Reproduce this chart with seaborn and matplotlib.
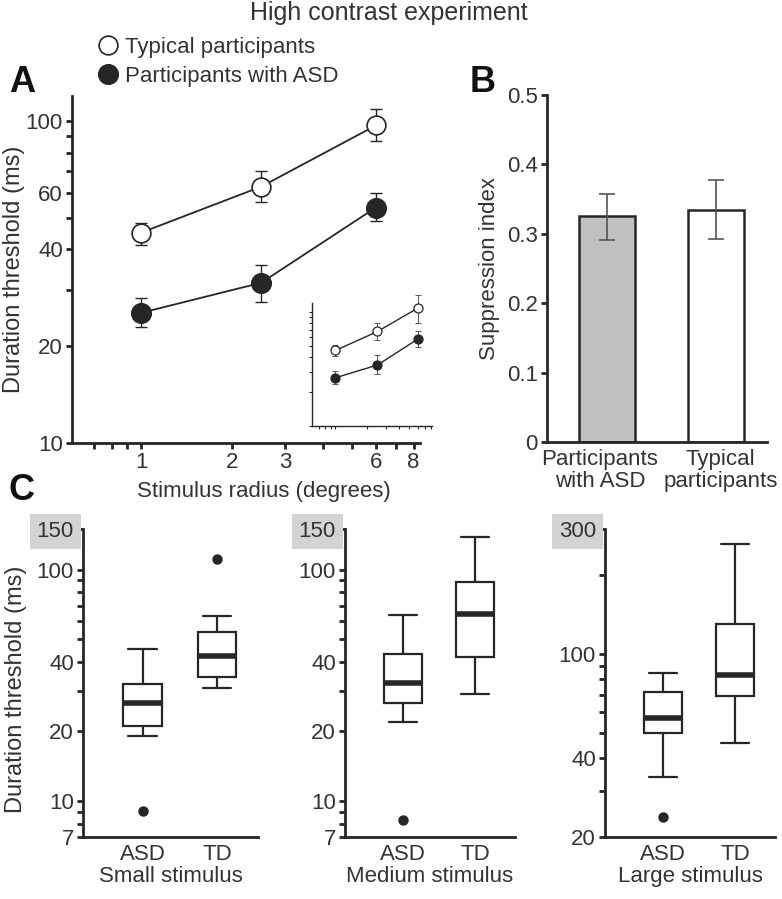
import matplotlib
matplotlib.use('Agg')
import matplotlib.pyplot as plt
import seaborn as sns
from matplotlib.lines import Line2D
from matplotlib.ticker import NullFormatter
from matplotlib.transforms import ScaledTranslation

# ---- data ----
# Panel A: duration threshold (ms) vs stimulus radius (deg)
radius = [1, 2.5, 6]
td_thresh = [45.1, 62.7, 97.2]
td_lo = [41.4, 56.3, 86.7]
td_hi = [48.5, 69.9, 109.6]
asd_thresh = [25.4, 31.5, 54.0]
asd_lo = [23.0, 27.5, 49.2]
asd_hi = [28.3, 35.9, 59.7]

# Panel A inset
inset_td = [46.0, 67.5, 108.0]
inset_td_lo = [41.2, 57.0, 80.0]
inset_td_hi = [51.5, 80.0, 140.0]
inset_asd = [26.5, 34.3, 57.8]
inset_asd_lo = [23.3, 28.4, 49.8]
inset_asd_hi = [30.6, 42.0, 67.5]

# Panel B: suppression index
groups_b = ['Participants\nwith ASD', 'Typical\nparticipants']
suppression = [0.325, 0.335]
supp_lo = [0.291, 0.292]
supp_hi = [0.357, 0.377]

# Panel C: box statistics (ASD, TD) per stimulus size
box_groups = ['ASD', 'TD']
conditions = ['Small stimulus', 'Medium stimulus', 'Large stimulus']
box_med = [[26.5, 42.6], [32.4, 64.5], [56.8, 83.3]]
box_q1 = [[21.2, 34.5], [26.5, 41.9], [50.0, 68.8]]
box_q3 = [[32.0, 54.0], [43.3, 88.5], [71.3, 130.6]]
box_whislo = [[19.2, 30.9], [21.9, 29.0], [34.0, 45.6]]
box_whishi = [[45.5, 63.4], [64.0, 139.0], [84.9, 262.0]]
box_fliers = [[[9.1], [110.9]], [[8.3], []], [[23.9], []]]

# axis ticks for panel C
c_ylims = [(7, 150), (7, 150), (20, 300)]
c_major = [[7, 10, 20, 40, 100, 150], [7, 10, 20, 40, 100, 150], [20, 40, 100, 300]]
c_minor = [[8, 9, 30, 50, 60, 70, 80, 90], [8, 9, 30, 50, 60, 70, 80, 90],
           [30, 50, 60, 70, 80, 90, 200]]

INK = '#262626'
TXT = '#333333'
FS = 16
TICK_FS = 16
YLAB_FS = 17

sns.set_style('ticks')
plt.rcParams['font.family'] = ['Liberation Sans', 'DejaVu Sans']
plt.rcParams.update({
    'axes.edgecolor': INK, 'axes.linewidth': 2.0,
    'xtick.color': INK, 'ytick.color': INK,
    'xtick.labelcolor': TXT, 'ytick.labelcolor': TXT,
    'xtick.major.width': 2.0, 'ytick.major.width': 2.0,
    'xtick.minor.width': 2.0, 'ytick.minor.width': 2.0,
    'xtick.major.size': 4.5, 'ytick.major.size': 4.5,
    'xtick.minor.size': 4.5, 'ytick.minor.size': 4.5,
    'xtick.labelsize': TICK_FS, 'ytick.labelsize': TICK_FS,
    'axes.labelsize': FS, 'axes.labelcolor': TXT, 'text.color': TXT,
})

W, H = 782, 899
fig = plt.figure(figsize=(W / 100, H / 100), dpi=100)


def px_axes(x0, y0, x1, y1):
    # pixel box (left, top, right, bottom) -> figure axes
    return fig.add_axes([x0 / W, 1 - y1 / H, (x1 - x0) / W, (y1 - y0) / H])


def clean(ax):
    sns.despine(ax=ax)


# ---------------- Panel A ----------------
axA = px_axes(72, 96, 420, 443)
axA.set_xscale('log')
axA.set_yscale('log')
for y, lo, hi, face, ms in [(td_thresh, td_lo, td_hi, 'white', 13.5),
                            (asd_thresh, asd_lo, asd_hi, INK, 14)]:
    err = [[v - l for v, l in zip(y, lo)], [h - v for v, h in zip(y, hi)]]
    axA.errorbar(radius, y, yerr=err, fmt='none', ecolor=INK, elinewidth=1.0,
                 capsize=4, capthick=1.0, zorder=2)
    sns.lineplot(x=radius, y=y, ax=axA, color=INK, linewidth=1.3, marker='o',
                 markersize=ms, markerfacecolor=face, markeredgecolor=INK,
                 markeredgewidth=1.2, errorbar=None, zorder=3)
axA.set_xlim(0.59, 8.4)
axA.set_ylim(10, 120)
axA.set_xticks([1, 2, 3, 6, 8], ['1', '2', '3', '6', '8'])
axA.set_xticks([0.7, 0.8, 0.9, 4, 5, 7], minor=True)
axA.set_yticks([10, 20, 40, 60, 100], ['10', '20', '40', '60', '100'])
axA.set_yticks([30, 50, 70, 80, 90], minor=True)
axA.xaxis.set_minor_formatter(NullFormatter())
axA.yaxis.set_minor_formatter(NullFormatter())
axA.tick_params(axis='x', which='both', pad=2)
axA.tick_params(axis='y', which='both', pad=2)
axA.set_xlabel('Stimulus radius (degrees)')
axA.xaxis.set_label_coords(0.55, -0.11)
axA.set_ylabel('Duration threshold (ms)', fontsize=YLAB_FS)
axA.yaxis.set_label_coords(-0.135, 0.5)
clean(axA)

handles = [Line2D([], [], marker='o', ls='none', ms=13.5, mfc='white', mec=INK, mew=1.2),
           Line2D([], [], marker='o', ls='none', ms=14, mfc=INK, mec=INK, mew=1.2)]
fig.legend(handles, ['Typical participants', 'Participants with ASD'],
           loc='upper left', bbox_to_anchor=(85 / W, 1 - 28 / H), frameon=False,
           fontsize=FS, handletextpad=0.1, labelspacing=0.35, borderaxespad=0,
           handlelength=1.3)

# Inset
axI = px_axes(312, 303, 432, 426)
axI.set_xscale('log')
axI.set_yscale('log')
for y, lo, hi, face in [(inset_td, inset_td_lo, inset_td_hi, 'white'),
                        (inset_asd, inset_asd_lo, inset_asd_hi, INK)]:
    err = [[v - l for v, l in zip(y, lo)], [h - v for v, h in zip(y, hi)]]
    axI.errorbar(radius, y, yerr=err, fmt='none', ecolor='#555555', elinewidth=0.7,
                 capsize=2, capthick=0.7, zorder=2, clip_on=False)
    sns.lineplot(x=radius, y=y, ax=axI, color=INK, linewidth=1.0, marker='o',
                 markersize=6.5, markerfacecolor=face, markeredgecolor=INK,
                 markeredgewidth=0.9, errorbar=None, zorder=3, clip_on=False)
axI.set_xlim(0.6, 8.2)
axI.set_ylim(10, 120)
axI.set_xticks([1, 2, 3, 6, 8])
axI.set_xticks([0.7, 0.8, 0.9, 4, 5, 7], minor=True)
axI.set_yticks([10, 20, 40, 60, 100])
axI.set_yticks([30, 50, 70, 80, 90], minor=True)
axI.set_xticklabels([])
axI.set_yticklabels([])
axI.xaxis.set_minor_formatter(NullFormatter())
axI.yaxis.set_minor_formatter(NullFormatter())
axI.tick_params(which='both', length=2, width=0.8)
for s in ['left', 'bottom']:
    axI.spines[s].set_linewidth(1.0)
axI.patch.set_alpha(0)
clean(axI)

# ---------------- Panel B ----------------
axB = px_axes(547, 95, 767, 442)
sns.barplot(x=groups_b, y=suppression, hue=groups_b, palette=['#c0c0c0', 'white'],
            legend=False, edgecolor=INK, linewidth=1.8, width=0.51, errorbar=None,
            ax=axB, zorder=2)
axB.errorbar([0, 1], suppression,
             yerr=[[v - l for v, l in zip(suppression, supp_lo)],
                   [h - v for v, h in zip(suppression, supp_hi)]],
             fmt='none', ecolor='#555555', elinewidth=1.2, capsize=6, capthick=1.2, zorder=3)
axB.set_xlim(-0.55, 1.47)
axB.set_ylim(0, 0.5)
axB.set_yticks([0, 0.1, 0.2, 0.3, 0.4, 0.5], ['0', '0.1', '0.2', '0.3', '0.4', '0.5'])
axB.tick_params(axis='x', length=0, pad=5, labelsize=FS)
axB.tick_params(axis='y', pad=2)
# nudge the two-line category labels apart, as in the original
for lab, dx in zip(axB.get_xticklabels(), [-7, 5]):
    lab.set_linespacing(1.05)
    lab.set_transform(lab.get_transform() + ScaledTranslation(dx / 100, 0, fig.dpi_scale_trans))
axB.set_xlabel('')
axB.set_ylabel('Suppression index', labelpad=5)
clean(axB)

# ---------------- Panel C ----------------
c_boxes = [(83, 258), (345, 515), (605, 775)]
for i, (x0, x1) in enumerate(c_boxes):
    ax = px_axes(x0, 529, x1, 837)
    ax.set_yscale('log')
    stats = []
    for j, g in enumerate(box_groups):
        stats.append(dict(label=g, med=box_med[i][j], q1=box_q1[i][j], q3=box_q3[i][j],
                          whislo=box_whislo[i][j], whishi=box_whishi[i][j],
                          fliers=box_fliers[i][j]))
    ax.bxp(stats, positions=[0, 1], widths=0.52, capwidths=0.38, patch_artist=True,
           showfliers=True, manage_ticks=False,
           boxprops=dict(facecolor='white', edgecolor=INK, linewidth=1.6),
           medianprops=dict(color=INK, linewidth=4.0, solid_capstyle='butt'),
           whiskerprops=dict(color=INK, linewidth=1.6),
           capprops=dict(color=INK, linewidth=1.6),
           flierprops=dict(marker='o', markerfacecolor=INK, markeredgecolor=INK,
                           markersize=6.5))
    ax.set_xlim(-0.8, 1.55)
    ax.set_ylim(*c_ylims[i])
    ax.set_xticks([0, 1], box_groups)
    ax.set_yticks(c_major[i], [str(v) for v in c_major[i]])
    ax.set_yticks(c_minor[i], minor=True)
    ax.yaxis.set_minor_formatter(NullFormatter())
    ax.tick_params(axis='x', length=0, pad=5, labelsize=FS)
    ax.tick_params(axis='y', which='both', pad=2)
    ax.set_xlabel(conditions[i], labelpad=1)
    # grey highlight behind the top tick label
    top = ax.get_yticklabels()[-1]
    top.set_bbox(dict(facecolor='#d3d3d3', edgecolor='none', boxstyle='square,pad=0.3'))
    if i == 0:
        ax.set_ylabel('Duration threshold (ms)', fontsize=YLAB_FS)
        ax.yaxis.set_label_coords(-0.32, 0.48)
    clean(ax)

# ---------------- titles and panel letters ----------------
fig.text(389 / W, 1 - 13 / H, 'High contrast experiment', ha='center', va='center',
         fontsize=18, color=TXT)
for letter, x, y in [('A', 9, 83), ('B', 470, 83), ('C', 9, 490)]:
    fig.text(x / W, 1 - y / H, letter, ha='left', va='center', fontsize=26,
             fontweight='bold', color='#111111')

fig.savefig('out.png', dpi=100)
